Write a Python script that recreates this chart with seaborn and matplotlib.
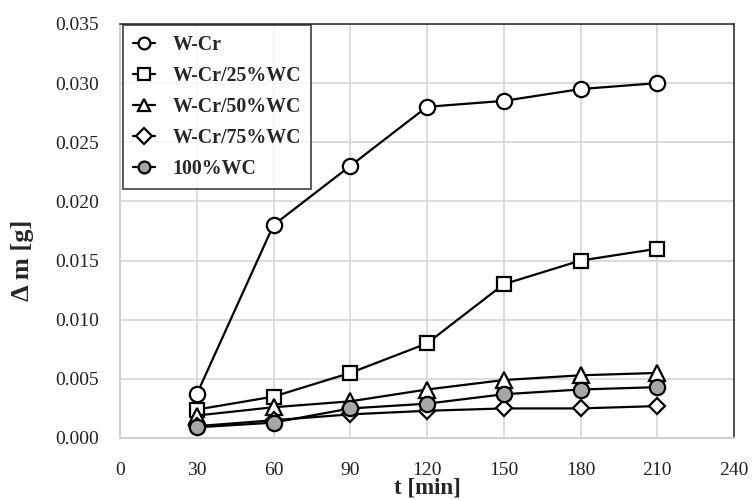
import matplotlib
matplotlib.use("Agg")
import matplotlib.pyplot as plt
import seaborn as sns
import pandas as pd

t_min = [30, 60, 90, 120, 150, 180, 210]
w_cr = [0.0037, 0.0180, 0.0230, 0.0280, 0.0285, 0.0295, 0.0300]
w_cr_25wc = [0.0024, 0.0035, 0.0055, 0.0080, 0.0130, 0.0150, 0.0160]
w_cr_50wc = [0.0019, 0.0026, 0.0031, 0.0041, 0.0049, 0.0053, 0.0055]
w_cr_75wc = [0.0010, 0.0015, 0.0020, 0.0023, 0.0025, 0.0025, 0.0027]
wc_100 = [0.0009, 0.0013, 0.0025, 0.0029, 0.0037, 0.0041, 0.0043]

series_names = ["W-Cr", "W-Cr/25%WC", "W-Cr/50%WC", "W-Cr/75%WC", "100%WC"]
series_values = [w_cr, w_cr_25wc, w_cr_50wc, w_cr_75wc, wc_100]
x_ticks = [0, 30, 60, 90, 120, 150, 180, 210, 240]
y_ticks = [0.000, 0.005, 0.010, 0.015, 0.020, 0.025, 0.030, 0.035]

markers = ["o", "s", "^", "D", "o"]
msizes = [11, 10, 11, 8.5, 11]
faces = ["white", "white", "white", "white", "#a6a6a6"]

sns.set_theme(style="white")
plt.rcParams["font.family"] = ["Liberation Serif", "DejaVu Serif"]

fig = plt.figure(figsize=(7.54, 5.0), dpi=100)
ax = fig.add_axes([120/754, 1-438/500, 614/754, 414/500])

for name, vals, m, ms, fc in zip(series_names, series_values, markers, msizes, faces):
    df = pd.DataFrame({"t": t_min, "dm": vals})
    sns.lineplot(data=df, x="t", y="dm", ax=ax, color="black", linewidth=1.6,
                 marker=m, markersize=ms, markerfacecolor=fc,
                 markeredgecolor="black", markeredgewidth=1.6, label=name)

ax.set_xlim(0, 240)
ax.set_ylim(0, 0.035)
ax.set_xticks(x_ticks)
ax.set_yticks(y_ticks)
ax.set_xticklabels([str(v) for v in x_ticks])
ax.set_yticklabels([f"{v:.3f}" for v in y_ticks])
ax.tick_params(axis="both", length=0, labelsize=14, colors="#222222")
ax.tick_params(axis="y", pad=15)
ax.tick_params(axis="x", pad=17)
ax.grid(True, color="#d9d9d9", linewidth=1.3)
ax.set_axisbelow(True)
for side in ["left", "bottom"]:
    ax.spines[side].set_color("#d0d0d0")
    ax.spines[side].set_linewidth(1.5)
for side in ["top", "right"]:
    ax.spines[side].set_color("#333333")
    ax.spines[side].set_linewidth(1.2)

ax.set_xlabel("t [min]", fontsize=16.5, fontweight="bold", labelpad=0)
ax.set_ylabel("Δ m [g]", fontsize=19, fontweight="bold")
ax.xaxis.set_label_coords(0.5, -0.095)
ax.yaxis.set_label_coords(-0.14, 0.43)

leg = ax.legend(loc="upper left", bbox_to_anchor=(0.005, 0.997), frameon=True,
                fancybox=False, prop={"weight": "bold", "size": 14.3},
                handlelength=1.1, handletextpad=0.9, labelspacing=0.55,
                borderpad=0.5, borderaxespad=0.0)
leg.get_frame().set_edgecolor("#222222")
leg.get_frame().set_linewidth(1.3)
for h in leg.legend_handles:
    h.set_markersize(8.5)

fig.savefig("out.png", dpi=100)
